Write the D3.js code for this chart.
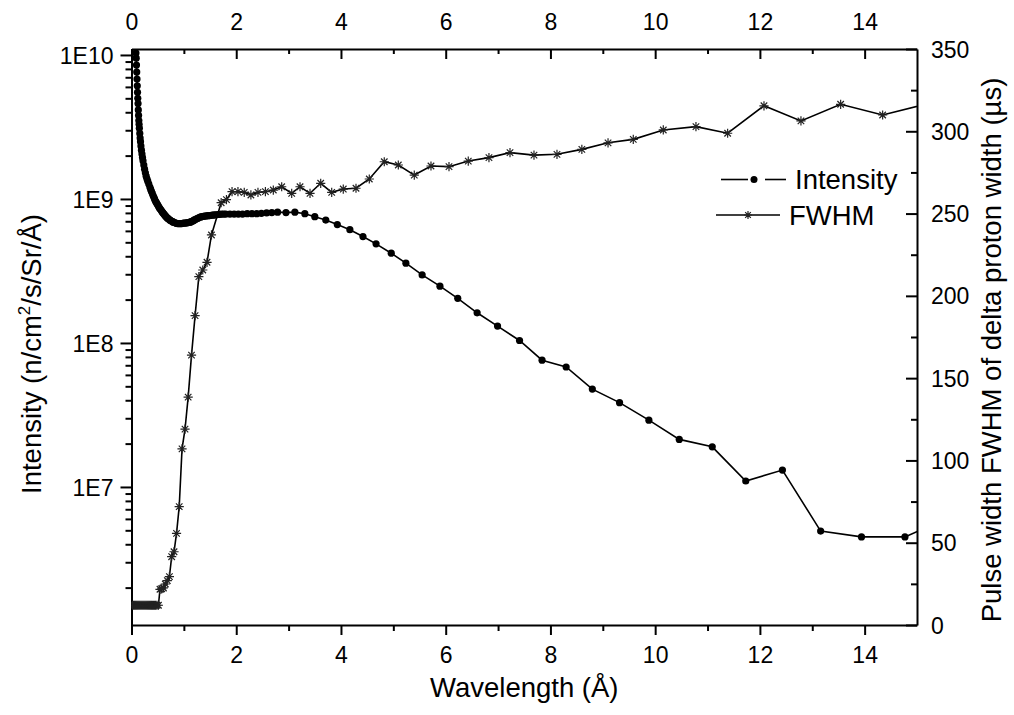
<!DOCTYPE html>
<html><head><meta charset="utf-8">
<script src="https://cdn.jsdelivr.net/npm/d3@7"></script>
<style>body{margin:0;background:#fff}svg text{font-family:"Liberation Sans",Arial,sans-serif;fill:#000}</style>
</head><body>
<svg id="c" width="1014" height="715"></svg>
<script>
// ---- data ----
const wavelengthTicks = [0, 2, 4, 6, 8, 10, 12, 14];
const intensityTicks = [1e7, 1e8, 1e9, 1e10];
const intensityTickLabels = ["1E7", "1E8", "1E9", "1E10"];
const fwhmTicks = [0, 50, 100, 150, 200, 250, 300, 350];
const seriesNames = ["Intensity", "FWHM"];

const intensityX = [0.070,0.075,0.080,0.085,0.090,0.095,0.100,0.105,0.110,0.115,0.120,0.125,0.130,0.135,0.140,0.145,0.150,0.158,0.165,0.172,0.180,0.190,0.200,0.210,0.220,0.235,0.250,0.265,0.280,0.295,0.310,0.330,0.350,0.365,0.380,0.395,0.410,0.425,0.440,0.455,0.470,0.485,0.500,0.515,0.530,0.545,0.560,0.575,0.590,0.605,0.620,0.635,0.650,0.665,0.680,0.695,0.710,0.725,0.740,0.755,0.770,0.785,0.800,0.820,0.840,0.860,0.880,0.900,0.920,0.940,0.960,0.980,1.000,1.020,1.040,1.060,1.080,1.100,1.120,1.140,1.160,1.180,1.200,1.225,1.250,1.275,1.300,1.325,1.350,1.375,1.400,1.430,1.460,1.490,1.520,1.550,1.580,1.615,1.650,1.685,1.720,1.760,1.800,1.880,1.960,2.040,2.120,2.210,2.300,2.390,2.480,2.580,2.680,2.790,2.950,3.120,3.310,3.500,3.710,3.930,4.170,4.420,4.670,4.960,5.240,5.550,5.890,6.230,6.600,6.990,7.410,7.840,8.300,8.800,9.320,9.880,10.460,11.090,11.730,12.430,13.160,13.940,14.770,15.640];
const intensityY = [1.27e10,1.2e10,1.12e10,1.03e10,9.5e9,8.5e9,7.6e9,6.8e9,6.1e9,5.5e9,5.0e9,4.6e9,4.15e9,3.8e9,3.5e9,3.3e9,3.1e9,2.85e9,2.65e9,2.5e9,2.33e9,2.18e9,2.05e9,1.94e9,1.84e9,1.72e9,1.61e9,1.52e9,1.44e9,1.38e9,1.33e9,1.27e9,1.21e9,1.17e9,1.13e9,1.10e9,1.06e9,1.03e9,1.0e9,9.7e8,9.5e8,9.3e8,9.1e8,8.9e8,8.7e8,8.55e8,8.4e8,8.25e8,8.1e8,7.97e8,7.85e8,7.72e8,7.6e8,7.5e8,7.4e8,7.32e8,7.25e8,7.17e8,7.1e8,7.05e8,7.0e8,6.95e8,6.9e8,6.85e8,6.8e8,6.78e8,6.75e8,6.75e8,6.75e8,6.75e8,6.75e8,6.77e8,6.8e8,6.8e8,6.8e8,6.82e8,6.85e8,6.87e8,6.9e8,6.95e8,7.0e8,7.07e8,7.15e8,7.22e8,7.3e8,7.37e8,7.45e8,7.5e8,7.55e8,7.57e8,7.6e8,7.62e8,7.65e8,7.67e8,7.7e8,7.72e8,7.75e8,7.77e8,7.8e8,7.82e8,7.85e8,7.85e8,7.85e8,7.85e8,7.85e8,7.85e8,7.85e8,7.9e8,7.9e8,7.9e8,7.95e8,8.0e8,8.05e8,8.1e8,8.05e8,8.1e8,7.9e8,7.53e8,7.14e8,6.64e8,6.12e8,5.48e8,4.88e8,4.20e8,3.58e8,2.97e8,2.48e8,2.04e8,1.62e8,1.31e8,1.04e8,7.59e7,6.81e7,4.78e7,3.85e7,2.91e7,2.14e7,1.90e7,1.10e7,1.31e7,4.94e6,4.50e6,4.50e6,6.2e6];

const fwhmX = [0.020,0.040,0.060,0.080,0.100,0.120,0.140,0.160,0.180,0.200,0.220,0.240,0.260,0.280,0.300,0.320,0.340,0.360,0.380,0.400,0.420,0.440,0.460,0.485,0.514,0.544,0.576,0.610,0.646,0.684,0.724,0.767,0.812,0.860,0.911,0.965,1.022,1.082,1.146,1.214,1.286,1.361,1.442,1.527,1.712,1.813,1.920,2.033,2.153,2.280,2.415,2.557,2.708,2.868,3.059,3.218,3.409,3.613,3.823,4.044,4.287,4.541,4.827,5.095,5.400,5.719,6.063,6.431,6.826,7.228,7.686,8.125,8.600,9.100,9.582,10.155,10.779,11.384,12.078,12.784,13.542,14.344,15.190];
const fwhmY = [12,12,12,12,12,12,12,12,12,12,12,12,12,12,12,12,12,12,12,12,12,12,12,12,12,21.7,22.0,22.5,24.9,27,29.4,41.5,44.5,55.7,71.9,107,119,138.5,164,188,211.7,215.7,220.4,237,256.6,258.5,263.3,263.3,262.9,261.3,262.9,263.3,264.3,266.3,262.3,266.3,262.3,268.4,262.9,264.9,265.4,271,281.5,279.5,273.4,278.9,278.5,281.9,284,287,285.5,286,289,293,295.1,300.8,302.8,298.8,315.5,306.3,316.4,309.9,316.7];

// ---- layout ----
const L = 131.5, R = 917, T = 49, B = 625;
const svg = d3.select("#c");
const x = d3.scaleLinear().domain([0, 15]).range([L, R]);
const yL = d3.scaleLog().domain([1.1e6, 1.1e10]).range([B, T]);
const yR = d3.scaleLinear().domain([0, 350]).range([B, T]);

svg.append("defs").append("clipPath").attr("id", "clip")
  .append("rect").attr("x", L).attr("y", T).attr("width", R - L).attr("height", B - T);

function styleAxis(g) {
  g.selectAll("path.domain").attr("stroke", "#000").attr("stroke-width", 2);
  g.selectAll(".tick line").attr("stroke", "#000").attr("stroke-width", 2);
  g.selectAll("text").attr("font-size", 23).attr("fill", "#000");
}

const xMinor = d3.range(1, 15, 2);
const yRMinor = d3.range(25, 350, 50);
const yLMinor = [];
[1e6, 1e7, 1e8, 1e9].forEach(d => { for (let k = 2; k <= 9; k++) { const v = d * k; if (v >= 1.1e6 && v <= 1.1e10) yLMinor.push(v); } });

// bottom (outward)
const gB = svg.append("g").attr("transform", `translate(0,${B})`)
  .call(d3.axisBottom(x).tickValues(wavelengthTicks).tickSize(10).tickSizeOuter(0).tickFormat(d3.format("d")));
gB.selectAll("text").attr("y", 0).attr("dy", 0).attr("transform", "translate(0,38)");
styleAxis(gB);
const gBm = svg.append("g").attr("transform", `translate(0,${B})`)
  .call(d3.axisBottom(x).tickValues(xMinor).tickSize(6).tickFormat(""));
gBm.select("path.domain").remove(); styleAxis(gBm);

// top (inward)
const gT = svg.append("g").attr("transform", `translate(0,${T})`)
  .call(d3.axisTop(x).tickValues(wavelengthTicks).tickSize(-10).tickSizeOuter(0).tickFormat(d3.format("d")));
gT.selectAll("text").attr("y", 0).attr("dy", 0).attr("transform", "translate(0,-19)");
styleAxis(gT);
const gTm = svg.append("g").attr("transform", `translate(0,${T})`)
  .call(d3.axisTop(x).tickValues(xMinor).tickSize(-5).tickFormat(""));
gTm.select("path.domain").remove(); styleAxis(gTm);

// left (log, outward)
const gL = svg.append("g").attr("transform", `translate(${L},0)`)
  .call(d3.axisLeft(yL).tickValues(intensityTicks).tickSize(11).tickSizeOuter(0)
    .tickFormat((d, i) => intensityTickLabels[i]));
gL.selectAll("text").attr("x", -18).attr("dy", "0.35em");
styleAxis(gL);
const gLm = svg.append("g").attr("transform", `translate(${L},0)`)
  .call(d3.axisLeft(yL).tickValues(yLMinor).tickSize(6).tickFormat(""));
gLm.select("path.domain").remove(); styleAxis(gLm);

// right (inward)
const gR = svg.append("g").attr("transform", `translate(${R},0)`)
  .call(d3.axisRight(yR).tickValues(fwhmTicks).tickSize(-11).tickSizeOuter(0).tickFormat(d3.format("d")));
gR.selectAll("text").attr("x", 14).attr("dy", "0.35em");
styleAxis(gR);
const gRm = svg.append("g").attr("transform", `translate(${R},0)`)
  .call(d3.axisRight(yR).tickValues(yRMinor).tickSize(-6).tickFormat(""));
gRm.select("path.domain").remove(); styleAxis(gRm);

// ---- series ----
const plot = svg.append("g").attr("clip-path", "url(#clip)");
const intensity = intensityX.map((d, i) => [d, intensityY[i]]);
const fwhm = fwhmX.map((d, i) => [d, fwhmY[i]]);

plot.append("path").datum(intensity)
  .attr("d", d3.line().x(d => x(d[0])).y(d => yL(d[1])))
  .attr("fill", "none").attr("stroke", "#000").attr("stroke-width", 1.6);
plot.selectAll("circle.int").data(intensity).join("circle").attr("class", "int")
  .attr("cx", d => x(d[0])).attr("cy", d => yL(d[1])).attr("r", 3.6).attr("fill", "#000");

const starPath = r => { const a = r * 0.7071; return `M0,${-r}L0,${r}M${-r},0L${r},0M${-a},${-a}L${a},${a}M${-a},${a}L${a},${-a}`; };
plot.append("path").datum(fwhm)
  .attr("d", d3.line().x(d => x(d[0])).y(d => yR(d[1])))
  .attr("fill", "none").attr("stroke", "#000").attr("stroke-width", 1.6);
plot.selectAll("path.star").data(fwhm).join("path").attr("class", "star")
  .attr("transform", d => `translate(${x(d[0])},${yR(d[1])})`)
  .attr("d", starPath(4.6)).attr("fill", "none").attr("stroke", "#222").attr("stroke-width", 1.2);

// ---- legend ----
const lg = svg.append("g");
lg.append("line").attr("x1", 721).attr("x2", 748).attr("y1", 179.5).attr("y2", 179.5).attr("stroke", "#000").attr("stroke-width", 1.6);
lg.append("line").attr("x1", 765).attr("x2", 786).attr("y1", 179.5).attr("y2", 179.5).attr("stroke", "#000").attr("stroke-width", 1.6);
lg.append("circle").attr("cx", 754).attr("cy", 179.5).attr("r", 3.5).attr("fill", "#000");
lg.append("text").attr("x", 795).attr("y", 188.5).attr("font-size", 27.5).text(seriesNames[0]);
lg.append("line").attr("x1", 716).attr("x2", 780).attr("y1", 215).attr("y2", 215).attr("stroke", "#000").attr("stroke-width", 1.6);
lg.append("path").attr("transform", "translate(748,215)").attr("d", starPath(4)).attr("fill", "none").attr("stroke", "#222").attr("stroke-width", 1.2);
lg.append("text").attr("x", 789).attr("y", 225).attr("font-size", 27.5).text(seriesNames[1]);

// ---- titles ----
svg.append("text").attr("x", (L + R) / 2).attr("y", 697).attr("text-anchor", "middle").attr("font-size", 27.5).text("Wavelength (Å)");
const lt = svg.append("text").attr("transform", "translate(41,354) rotate(-90)").attr("text-anchor", "middle").attr("font-size", 27.5);
lt.append("tspan").text("Intensity (n/cm");
lt.append("tspan").attr("font-size", 17).attr("dy", -11).text("2");
lt.append("tspan").attr("dy", 11).text("/s/Sr/Å)");
svg.append("text").attr("transform", "translate(1001,350) rotate(-90)").attr("text-anchor", "middle").attr("font-size", 27.5)
  .text("Pulse width FWHM of delta proton width (µs)");
</script>
</body></html>
